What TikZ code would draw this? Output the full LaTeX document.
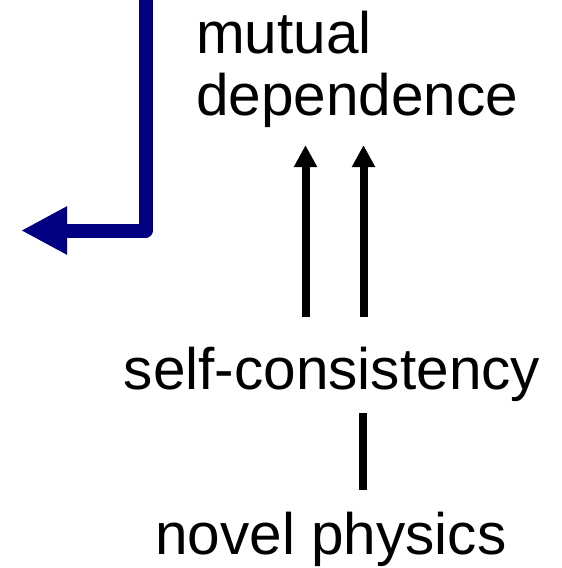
\documentclass[tikz,border=0pt]{standalone}
\usepackage{fontspec}
\setmainfont{Liberation Sans}
\usepackage{tikz}
\usetikzlibrary{
    arrows.meta,
    positioning,
    calc
}
\definecolor{NavyFeed}{RGB}{0,0,128}

\begin{document}
\begin{tikzpicture}[
    x=1pt, y=-1pt,
    lbl/.style  = {inner sep=0pt, outer sep=0pt,
                   font=\fontsize{58.5}{62}\selectfont},
    arr/.style  = {-{Triangle[length=22pt,width=22pt]}, line width=8pt, black},
    link/.style = {line width=8pt, black},
    feed/.style = {-{Triangle[length=46pt,width=45pt]}, line width=14pt,
                   color=NavyFeed, line join=round},
  ]

  \useasboundingbox (0,0) rectangle (562,568);

  \node[lbl, anchor=base west, align=left] (md) at (196,115) {mutual\\dependence};
  \node[lbl, anchor=base] (sc) at (332,389) {self-consistency};
  \node[lbl, anchor=base] (np) at (331,554) {novel physics};

  \coordinate (feedin)  at (145.5,0);
  \coordinate (feedout) at (21,230.5);

  \draw[feed] (feedin) |- (feedout);

  \draw[arr, shorten <=30pt, shorten >=18pt]
    ([xshift=-26.5pt]sc.north) -- ([xshift=-26.5pt]sc.north |- md.south);
  \draw[arr, shorten <=30pt, shorten >=18pt]
    ([xshift=31.5pt]sc.north) -- ([xshift=31.5pt]sc.north |- md.south);
  \draw[link, shorten <=12pt, shorten >=22pt]
    ([xshift=30.5pt]sc.south) -- ([xshift=30.5pt]sc.south |- np.north);

\end{tikzpicture}
\end{document}
